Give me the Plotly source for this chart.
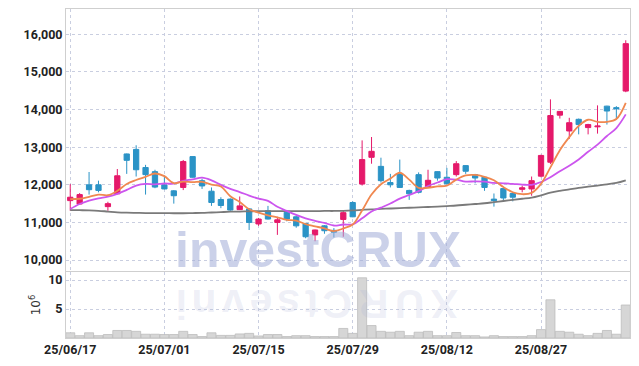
import plotly.graph_objects as go
from plotly.subplots import make_subplots

dates = [
    "25/06/17", "25/06/18", "25/06/19", "25/06/20", "25/06/23", "25/06/24", "25/06/25", "25/06/26", "25/06/27", "25/06/30",
    "25/07/01", "25/07/02", "25/07/03", "25/07/04", "25/07/07", "25/07/08", "25/07/09", "25/07/10", "25/07/11", "25/07/14",
    "25/07/15", "25/07/16", "25/07/17", "25/07/18", "25/07/21", "25/07/22", "25/07/23", "25/07/24", "25/07/25", "25/07/28",
    "25/07/29", "25/07/30", "25/07/31", "25/08/01", "25/08/04", "25/08/05", "25/08/06", "25/08/07", "25/08/08", "25/08/11",
    "25/08/12", "25/08/13", "25/08/14", "25/08/18", "25/08/19", "25/08/20", "25/08/21", "25/08/22", "25/08/25", "25/08/26",
    "25/08/27", "25/08/28", "25/08/29", "25/09/01", "25/09/02", "25/09/03", "25/09/04", "25/09/05", "25/09/08", "25/09/09",
]

open_ = [11580, 11490, 12000, 12000, 11420, 11760, 12820, 12940, 12460, 12350,
         12000, 11840, 11930, 12750, 12110, 11830, 11610, 11620, 11340, 11360,
         10960, 11310, 11000, 11270, 11150, 10970, 10670, 10910, 10790, 11080,
         11530, 12020, 12730, 12490, 12060, 12290, 11850, 12270, 11930, 12350,
         12200, 12270, 12510, 12270, 12200, 11620, 11900, 11770, 11880, 11890,
         12230, 12600, 13850, 13430, 13740, 13520, 13540, 14090, 14050, 14490]
high = [12020, 11780, 12340, 12110, 11550, 12420, 12830, 13050, 12530, 12400,
        12240, 11860, 12660, 12760, 12160, 11930, 11670, 11640, 11690, 11380,
        11120, 11440, 11150, 11330, 11180, 10990, 10810, 10930, 10850, 11330,
        11560, 13180, 13270, 12720, 12290, 12670, 11870, 12330, 12400, 12360,
        12450, 12630, 12520, 12290, 12220, 11770, 11920, 11790, 11980, 12220,
        12800, 14270, 13960, 13780, 13760, 13620, 14110, 14100, 14090, 15840]
low = [11310, 11480, 11740, 11800, 11310, 11750, 12290, 12220, 11740, 11910,
       11880, 11500, 11860, 12190, 11890, 11440, 11380, 11310, 11330, 10800,
       10910, 11080, 10670, 11030, 10860, 10580, 10500, 10700, 10600, 10620,
       11140, 11980, 12560, 12060, 11930, 11920, 11600, 11770, 11920, 12110,
       12010, 12220, 12290, 12040, 11840, 11420, 11580, 11560, 11800, 11710,
       12200, 12550, 13760, 13220, 13340, 13340, 13360, 13600, 13730, 14460]
close = [11670, 11740, 11870, 11850, 11500, 12240, 12650, 12400, 12270, 11940,
         11890, 11710, 12620, 12200, 11970, 11530, 11450, 11330, 11440, 11000,
         11090, 11090, 11070, 11090, 10910, 10620, 10800, 10780, 10740, 11260,
         11150, 12670, 12890, 12110, 12000, 11930, 11760, 11800, 12120, 12180,
         12030, 12560, 12360, 12180, 11930, 11580, 11650, 11670, 11920, 12110,
         12780, 13840, 13950, 13650, 13600, 13600, 13560, 13960, 14020, 15750]

ma5 = [11620, 11630, 11680, 11740, 11725, 11840, 12022, 12128, 12212, 12300,
       12230, 12042, 12086, 12072, 12078, 12006, 11954, 11696, 11544, 11350,
       11262, 11190, 11138, 11068, 11050, 10956, 10898, 10840, 10770, 10840,
       10946, 11320, 11742, 12016, 12164, 12320, 12138, 11920, 11922, 11958,
       11978, 12138, 12250, 12262, 12212, 12122, 11940, 11802, 11750, 11786,
       12026, 12464, 12920, 13266, 13564, 13728, 13672, 13674, 13748, 14178]
ma10 = [11357, 11490, 11580, 11640, 11685, 11757, 11864, 11979, 12024, 12013,
        12035, 12032, 12107, 12142, 12189, 12118, 11998, 11891, 11808, 11714,
        11634, 11572, 11417, 11306, 11200, 11109, 11044, 10989, 10919, 10945,
        10951, 11109, 11291, 11393, 11502, 11633, 11729, 11831, 11969, 12061,
        12149, 12138, 12085, 12092, 12085, 12050, 12039, 12026, 12006, 11999,
        12074, 12202, 12361, 12508, 12675, 12877, 13068, 13297, 13507, 13871]
ma60 = [11330, 11325, 11320, 11310, 11290, 11270, 11260, 11255, 11250, 11250,
        11250, 11245, 11245, 11250, 11255, 11265, 11275, 11285, 11290, 11295,
        11300, 11300, 11300, 11300, 11300, 11300, 11300, 11305, 11305, 11310,
        11320, 11335, 11350, 11360, 11370, 11380, 11390, 11400, 11410, 11420,
        11435, 11450, 11470, 11490, 11510, 11540, 11570, 11600, 11630, 11660,
        11720, 11790, 11840, 11880, 11920, 11950, 11980, 12010, 12050, 12120]

volume_m = [0.9, 0.4, 0.9, 0.4, 0.6, 1.3, 1.3, 1.15, 0.65, 0.65,
            0.6, 0.6, 1.15, 0.6, 0.25, 0.9, 0.45, 0.45, 0.7, 0.8,
            0.35, 0.6, 0.6, 0.25, 0.4, 0.4, 0.25, 0.25, 0.25, 1.65,
            0.8, 10.4, 2.15, 1.15, 1.0, 1.15, 0.4, 1.0, 1.15, 0.4,
            0.4, 0.95, 0.4, 0.4, 0.18, 0.4, 0.25, 0.25, 0.25, 0.4,
            1.45, 6.6, 1.15, 1.0, 0.65, 0.4, 0.8, 1.3, 0.65, 5.7]

price_ticks = [10000, 11000, 12000, 13000, 14000, 15000, 16000]
volume_ticks = [5, 10]
date_ticks = [dates[i] for i in (0, 10, 20, 30, 40, 50)]
watermark = "investCRUX"

UP = "#e5196a"
DOWN = "#2b93c6"
GRID = "#c9cee0"
FONT = "Roboto, sans-serif"
TICKFONT = dict(family=FONT, size=12.5, color="#222", weight="bold")

W, H = 639, 366
ML, MR, MT, MB = 66, 9, 9, 28
PW, PH = W - ML - MR, H - MT - MB

fig = make_subplots(rows=2, cols=1, shared_xaxes=True, vertical_spacing=0.003,
                    row_heights=[0.8, 0.2])

fig.add_trace(go.Candlestick(
    x=dates, open=open_, high=high, low=low, close=close,
    increasing=dict(line=dict(color=UP, width=1), fillcolor=UP),
    decreasing=dict(line=dict(color=DOWN, width=1), fillcolor=DOWN),
    whiskerwidth=0, showlegend=False, hoverinfo="skip"), row=1, col=1)

fig.add_trace(go.Scatter(x=dates, y=ma60, mode="lines", line=dict(color="#7a7a7a", width=1.8, shape="spline"),
                         showlegend=False, hoverinfo="skip"), row=1, col=1)
fig.add_trace(go.Scatter(x=dates, y=ma10, mode="lines", line=dict(color="#cc55ee", width=1.8, shape="spline"),
                         showlegend=False, hoverinfo="skip"), row=1, col=1)
fig.add_trace(go.Scatter(x=dates, y=ma5, mode="lines", line=dict(color="#f08850", width=1.8, shape="spline"),
                         showlegend=False, hoverinfo="skip"), row=1, col=1)

fig.add_trace(go.Bar(x=dates, y=volume_m, marker=dict(color="#d6d6d6", line=dict(color="#bdbdbd", width=0.8)),
                     showlegend=False, hoverinfo="skip"), row=2, col=1)

xcommon = dict(type="category", range=[-0.45, 59.45], tickvals=date_ticks, ticktext=date_ticks,
               showgrid=True, gridcolor=GRID, griddash="dot", gridwidth=1,
               showline=True, linecolor="#cfcfcf", mirror=True, ticks="", automargin=False,
               rangeslider=dict(visible=False), fixedrange=True)

fig.update_xaxes(**xcommon)
fig.update_xaxes(showticklabels=False, row=1, col=1)
fig.update_xaxes(showticklabels=True, tickfont=TICKFONT, row=2, col=1)

fig.update_yaxes(range=[9710, 16670], tickvals=price_ticks, tickformat=",d",
                 showgrid=True, gridcolor=GRID, griddash="dot", gridwidth=1, automargin=False,
                 showline=True, linecolor="#cfcfcf", mirror=True, ticks="", zeroline=False,
                 tickfont=TICKFONT, domain=[0.2036, 1], fixedrange=True, row=1, col=1)
fig.update_yaxes(range=[0, 11.4], tickvals=volume_ticks,
                 showgrid=True, gridcolor=GRID, griddash="dot", gridwidth=1, automargin=False,
                 showline=True, linecolor="#cfcfcf", mirror=True, ticks="", zeroline=False,
                 tickfont=TICKFONT, domain=[0, 0.2006], fixedrange=True,
                 title=dict(text="10<sup>6</sup>", font=dict(family="DejaVu Sans", size=12, color="#333"), standoff=4),
                 row=2, col=1)


def px_x(px):
    return (px - ML) / PW


def px_y(py):
    return (H - MB - py) / PH


# watermark
fig.add_annotation(text=watermark, xref="paper", yref="paper",
                   x=px_x(318), y=px_y(250), xanchor="center", yanchor="middle",
                   showarrow=False, height=42, valign="middle",
                   font=dict(family="Liberation Sans", size=50, weight="bold", color="rgba(160,172,215,0.55)"))
# faint reflection below the price panel
letter_px = [182, 204.2, 233.4, 261.2, 289, 311.2, 337.5, 373.7, 409.8, 444.5]
for ch, lx in zip(watermark, letter_px):
    fig.add_annotation(text=ch, xref="paper", yref="paper", x=px_x(lx), y=px_y(304),
                       xanchor="center", yanchor="middle", textangle=180, showarrow=False,
                       height=34, valign="middle",
                       font=dict(family="Liberation Sans", size=41, weight="bold", color="rgba(170,180,215,0.2)"))

fig.update_layout(width=W, height=H, margin=dict(l=ML, r=MR, t=MT, b=MB),
                  paper_bgcolor="white", plot_bgcolor="white", bargap=0.04, boxgap=0.2,
                  font=dict(family=FONT))

fig.write_html("out.html", config={"displayModeBar": False},
               post_script="document.body.style.margin='0';")
